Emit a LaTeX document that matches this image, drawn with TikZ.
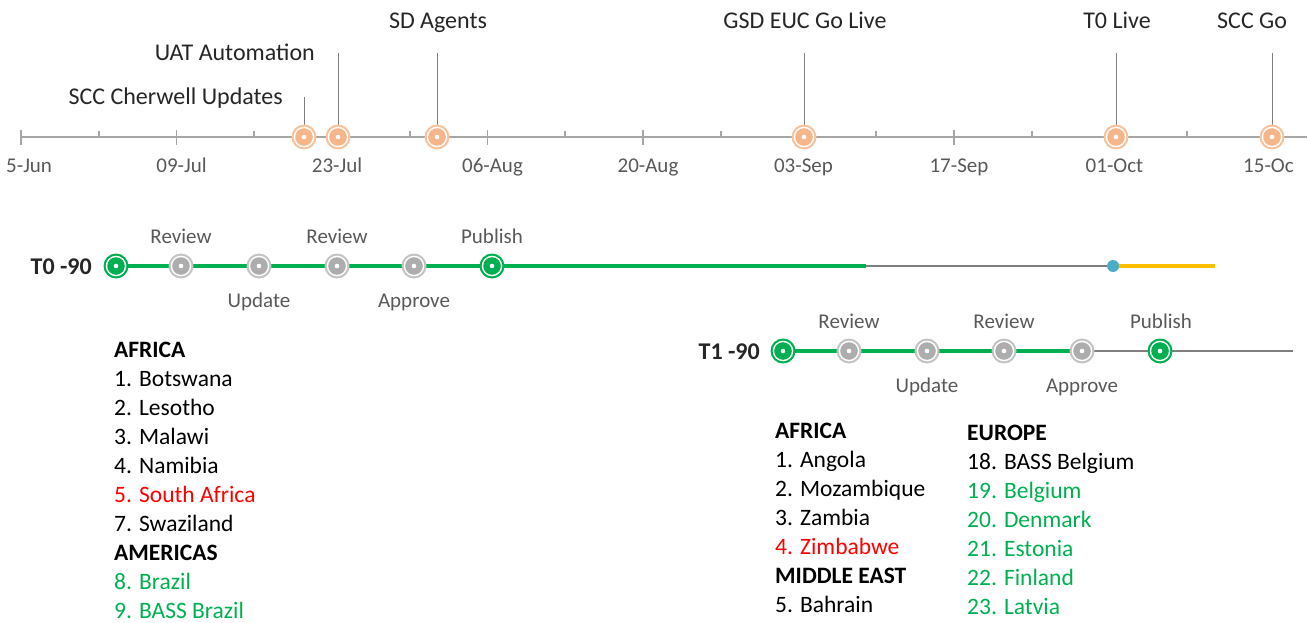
\documentclass[tikz,border=0pt]{standalone}
\usepackage{fontspec}
\setmainfont{Carlito}
\usetikzlibrary{backgrounds,calc}
\definecolor{axisgray}{HTML}{A6A6A6}
\definecolor{leadgray}{HTML}{7F7F7F}
\definecolor{datetext}{HTML}{595959}
\definecolor{toptext}{HTML}{262626}
\definecolor{orlight}{HTML}{F8C29C}
\definecolor{ordark}{HTML}{F6B68A}
\definecolor{grn}{HTML}{00B050}
\definecolor{grylight}{HTML}{C4C4C4}
\definecolor{grydark}{HTML}{ADADAD}
\definecolor{bluedot}{HTML}{4BACC6}
\definecolor{yel}{HTML}{FFC000}
\definecolor{redtxt}{HTML}{FF0000}
\begin{document}
\begin{tikzpicture}[x=1pt,y=-1pt,
  ring/.style n args={3}{circle, minimum size=25pt, inner sep=0pt, outer sep=0pt, fill=#1,
    path picture={
      \fill[white] (path picture bounding box.center) circle (10.3pt);
      \fill[#2] (path picture bounding box.center) circle (8.8pt);
      \fill[#3] (path picture bounding box.center) circle (2.3pt);}},
  oring/.style={ring={orlight}{ordark}{white}},
  gring/.style={ring={grn}{grn}{white}},
  yring/.style={ring={grylight}{grydark}{white}},
  toplbl/.style={inner sep=0pt, font=\fontsize{24}{29}\selectfont, text=toptext},
  datelbl/.style={inner sep=0pt, font=\fontsize{21}{25}\selectfont, text=datetext, anchor=base},
  steplbl/.style={inner sep=0pt, font=\fontsize{21}{25}\selectfont, text=datetext, anchor=base},
  rowlbl/.style={inner sep=0pt, font=\fontsize{24}{29}\bfseries\selectfont, text=toptext, anchor=base east},
  listtxt/.style={inner sep=0pt, font=\fontsize{23.5}{29}\selectfont, anchor=base west},
  axisline/.style={draw=axisgray, line width=1.8pt},
  leader/.style={draw=leadgray, line width=1pt},
  gline/.style={draw=grn, line width=3.5pt},
  thinline/.style={draw=leadgray, line width=1.4pt},
  yline/.style={draw=yel, line width=3.5pt}
]
\useasboundingbox (0,0) rectangle (1307,623);
\clip (0,0) rectangle (1307,623);

% ---------- top axis ----------
\coordinate (ax0) at (21,137);
\coordinate (ax1) at (1307,137);
\draw[axisline] (ax0) -- (ax1);
\foreach \k in {0,...,8} {
  \coordinate (tk\k) at ({21+155.5*\k},137);
  \draw[axisline] ($(tk\k)+(0,-7)$) -- ($(tk\k)+(0,8)$);
}
\foreach \k in {0,...,7} {
  \coordinate (mk\k) at ({98.75+155.5*\k},137);
  \draw[axisline] ($(mk\k)+(0,-6)$) -- (mk\k);
}
\node[datelbl, anchor=base west] (d0) at (6,173) {5-Jun};
\foreach \d [count=\k] in {09-Jul,23-Jul,06-Aug,20-Aug,03-Sep,17-Sep,01-Oct} {
  \node[datelbl] (d\k) at ({26+155.5*\k},173) {\d};
}
\node[datelbl, anchor=base west] (d8) at (1243,173) {15-Oc};

% milestones
\coordinate (l1) at (304,97);
\coordinate (l2) at (338,53);
\coordinate (l3) at (437,53);
\coordinate (l4) at (804,53);
\coordinate (l5) at (1116,53);
\coordinate (l6) at (1272,53);
\node[oring] (m1) at (304,137) {};
\node[oring] (m2) at (338,137) {};
\node[oring] (m3) at (437,137) {};
\node[oring] (m4) at (804,137) {};
\node[oring] (m5) at (1116,137) {};
\node[oring] (m6) at (1272,137) {};
\begin{scope}[on background layer]
\foreach \i in {1,...,6} { \draw[leader] (l\i) -- (m\i.center); }
\end{scope}
\node[toplbl, anchor=base east] (t1) at (283,105) {SCC Cherwell Updates};
\node[toplbl, anchor=base east] (t2) at (315,61) {UAT Automation};
\node[toplbl, anchor=base] (t3) at (438,29) {SD Agents};
\node[toplbl, anchor=base] (t4) at (805,29) {GSD EUC Go Live};
\node[toplbl, anchor=base] (t5) at (1117,29) {T0 Live};
\node[toplbl, anchor=base west] (t6) at (1217,29) {SCC Go};

% ---------- T0 -90 row ----------
\node[rowlbl] (r0lbl) at (92,274) {T0 -90};
\node[gring] (a1) at (116,266) {};
\node[yring] (a2) at (181,266) {};
\node[yring] (a3) at (259,266) {};
\node[yring] (a4) at (337,266) {};
\node[yring] (a5) at (414,266) {};
\node[gring] (a6) at (492,266) {};
\coordinate (a7) at (866,266);
\node[circle, fill=bluedot, minimum size=12pt, inner sep=0pt] (a8) at (1113,266) {};
\coordinate (a9) at (1215,266);
\begin{scope}[on background layer]
\draw[gline] (a1.center) -- (a7);
\draw[thinline] (a7) -- (a8.center);
\draw[yline] (a8.center) -- (a9);
\end{scope}
\node[steplbl] (s1) at (181,243) {Review};
\node[steplbl] (s2) at (259,307) {Update};
\node[steplbl] (s3) at (337,243) {Review};
\node[steplbl] (s4) at (414,307) {Approve};
\node[steplbl] (s5) at (492,243) {Publish};

% ---------- T1 -90 row ----------
\node[rowlbl] (r1lbl) at (760,359) {T1 -90};
\node[gring] (b1) at (783,351) {};
\node[yring] (b2) at (849,351) {};
\node[yring] (b3) at (927,351) {};
\node[yring] (b4) at (1004,351) {};
\node[yring] (b5) at (1082,351) {};
\node[gring] (b6) at (1160,351) {};
\coordinate (b7) at (1293,351);
\begin{scope}[on background layer]
\draw[gline] (b1.center) -- (b5.center);
\draw[thinline] (b5.center) -- (b7);
\end{scope}
\node[steplbl] (u1) at (849,328) {Review};
\node[steplbl] (u2) at (927,392) {Update};
\node[steplbl] (u3) at (1004,328) {Review};
\node[steplbl] (u4) at (1082,392) {Approve};
\node[steplbl] (u5) at (1161,328) {Publish};

% ---------- lists ----------
\foreach \t/\c [count=\i from 0] in {\textbf{AFRICA}/black, 1. Botswana/black, 2. Lesotho/black,
   3. Malawi/black, 4. Namibia/black, 5. South Africa/redtxt, 7. Swaziland/black,
   \textbf{AMERICAS}/black, 8. Brazil/grn, 9. BASS Brazil/grn} {
  \node[listtxt, text=\c] (p\i) at (114,{357+29.1*\i}) {\t};
}
\foreach \t/\c [count=\i from 0] in {\textbf{AFRICA}/black, 1. Angola/black, 2. Mozambique/black,
   3. Zambia/black, 4. Zimbabwe/redtxt, \textbf{MIDDLE EAST}/black, 5. Bahrain/black} {
  \node[listtxt, text=\c] (q\i) at (775,{438+29.1*\i}) {\t};
}
\foreach \t/\c [count=\i from 0] in {\textbf{EUROPE}/black, 18. BASS Belgium/black, 19. Belgium/grn,
   20. Denmark/grn, 21. Estonia/grn, 22. Finland/grn, 23. Latvia/grn} {
  \node[listtxt, text=\c] (e\i) at (967,{440+29.1*\i}) {\t};
}
\end{tikzpicture}
\end{document}
